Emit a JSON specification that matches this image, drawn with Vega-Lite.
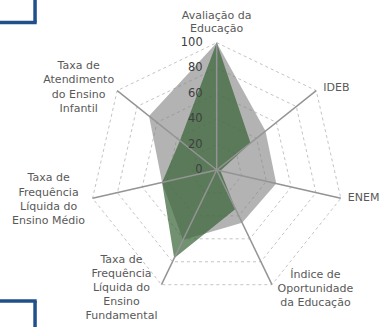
{
  "$schema": "https://vega.github.io/schema/vega-lite/v6.json",
  "width": 381,
  "height": 327,
  "padding": 0,
  "autosize": {"type": "none"},
  "config": {"view": {"stroke": null}, "font": "DejaVu Sans"},
  "datasets": {
    "vals": [
      {"series": "A", "i": 0, "value": 100},
      {"series": "A", "i": 1, "value": 49},
      {"series": "A", "i": 2, "value": 48},
      {"series": "A", "i": 3, "value": 46},
      {"series": "A", "i": 4, "value": 61},
      {"series": "A", "i": 5, "value": 44},
      {"series": "A", "i": 6, "value": 68},
      {"series": "B", "i": 0, "value": 100},
      {"series": "B", "i": 1, "value": 34},
      {"series": "B", "i": 2, "value": 3},
      {"series": "B", "i": 3, "value": 34},
      {"series": "B", "i": 4, "value": 77},
      {"series": "B", "i": 5, "value": 44},
      {"series": "B", "i": 6, "value": 37}
    ],
    "axes": [
      {"i": 0, "label": "Avaliação da|Educação"},
      {"i": 1, "label": "IDEB"},
      {"i": 2, "label": "ENEM"},
      {"i": 3, "label": "Índice de|Oportunidade|da Educação"},
      {"i": 4, "label": "Taxa de|Frequência|Líquida do|Ensino|Fundamental"},
      {"i": 5, "label": "Taxa de|Frequência|Líquida do|Ensino Médio"},
      {"i": 6, "label": "Taxa de|Atendimento|do Ensino|Infantil"}
    ],
    "grid": [
      {"i": 0, "levels": [20, 40, 60, 80, 100]},
      {"i": 1, "levels": [20, 40, 60, 80, 100]},
      {"i": 2, "levels": [20, 40, 60, 80, 100]},
      {"i": 3, "levels": [20, 40, 60, 80, 100]},
      {"i": 4, "levels": [20, 40, 60, 80, 100]},
      {"i": 5, "levels": [20, 40, 60, 80, 100]},
      {"i": 6, "levels": [20, 40, 60, 80, 100]}
    ],
    "ticks": [{"v": 0}, {"v": 20}, {"v": 40}, {"v": 60}, {"v": 80}, {"v": 100}]
  },
  "encoding": {},
  "layer": [
    {
      "data": {"name": "grid"},
      "transform": [
        {"flatten": ["levels"], "as": ["level"]},
        {"calculate": "datum.i * 2 * PI / 7", "as": "a"},
        {"calculate": "datum.level * sin(datum.a)", "as": "px"},
        {"calculate": "datum.level * cos(datum.a)", "as": "py"}
      ],
      "mark": {"type": "line", "interpolate": "linear-closed", "stroke": "#c4c4c4", "strokeWidth": 1, "strokeDash": [3, 3]},
      "encoding": {
        "x": {"field": "px", "type": "quantitative", "scale": {"domain": [-170.23, 129.07], "nice": false, "zero": false}, "axis": null},
        "y": {"field": "py", "type": "quantitative", "scale": {"domain": [-123.33, 133.54], "nice": false, "zero": false}, "axis": null},
        "detail": {"field": "level", "type": "nominal"},
        "order": {"field": "i", "type": "quantitative"}
      }
    },
    {
      "data": {"name": "vals"},
      "transform": [
        {"filter": "datum.series == 'A'"},
        {"calculate": "datum.i * 2 * PI / 7", "as": "a"},
        {"calculate": "datum.value * sin(datum.a)", "as": "px"},
        {"calculate": "datum.value * cos(datum.a)", "as": "py"}
      ],
      "mark": {"type": "line", "interpolate": "linear-closed", "fill": "#808080", "fillOpacity": 0.6, "strokeWidth": 0},
      "encoding": {
        "x": {"field": "px", "type": "quantitative"},
        "y": {"field": "py", "type": "quantitative"},
        "order": {"field": "i", "type": "quantitative"}
      }
    },
    {
      "data": {"name": "vals"},
      "transform": [
        {"filter": "datum.series == 'B'"},
        {"calculate": "datum.i * 2 * PI / 7", "as": "a"},
        {"calculate": "datum.value * sin(datum.a)", "as": "px"},
        {"calculate": "datum.value * cos(datum.a)", "as": "py"}
      ],
      "mark": {"type": "line", "interpolate": "linear-closed", "fill": "#346234", "fillOpacity": 0.7, "strokeWidth": 0},
      "encoding": {
        "x": {"field": "px", "type": "quantitative"},
        "y": {"field": "py", "type": "quantitative"},
        "order": {"field": "i", "type": "quantitative"}
      }
    },
    {
      "data": {"name": "axes"},
      "transform": [
        {"calculate": "datum.i * 2 * PI / 7", "as": "a"},
        {"calculate": "100 * sin(datum.a)", "as": "px"},
        {"calculate": "100 * cos(datum.a)", "as": "py"}
      ],
      "mark": {"type": "rule", "color": "#949494", "strokeWidth": 1.5},
      "encoding": {
        "x": {"field": "px", "type": "quantitative"},
        "y": {"field": "py", "type": "quantitative"},
        "x2": {"datum": 0},
        "y2": {"datum": 0}
      }
    },
    {
      "data": {"name": "ticks"},
      "mark": {"type": "text", "align": "right", "baseline": "middle", "dx": -14, "fontSize": 11.5, "color": "#404040"},
      "encoding": {
        "x": {"datum": 0, "type": "quantitative"},
        "y": {"field": "v", "type": "quantitative"},
        "text": {"field": "v", "type": "quantitative"}
      }
    },
    {
      "data": {"name": "axes"},
      "transform": [
        {"filter": "datum.i == 0"},
        {"calculate": "datum.i * 2 * PI / 7", "as": "a"},
        {"calculate": "100 * sin(datum.a)", "as": "px"},
        {"calculate": "100 * cos(datum.a)", "as": "py"}
      ],
      "mark": {"type": "text", "align": "center", "baseline": "middle", "dx": 0, "dy": -26.7, "fontSize": 11, "lineBreak": "|", "lineHeight": 13.5, "color": "#595959"},
      "encoding": {"x": {"field": "px", "type": "quantitative"}, "y": {"field": "py", "type": "quantitative"}, "text": {"field": "label", "type": "nominal"}}
    },
    {
      "data": {"name": "axes"},
      "transform": [
        {"filter": "datum.i == 1"},
        {"calculate": "datum.i * 2 * PI / 7", "as": "a"},
        {"calculate": "100 * sin(datum.a)", "as": "px"},
        {"calculate": "100 * cos(datum.a)", "as": "py"}
      ],
      "mark": {"type": "text", "align": "left", "baseline": "middle", "dx": 7, "dy": -3, "fontSize": 11, "lineBreak": "|", "lineHeight": 14, "color": "#595959"},
      "encoding": {"x": {"field": "px", "type": "quantitative"}, "y": {"field": "py", "type": "quantitative"}, "text": {"field": "label", "type": "nominal"}}
    },
    {
      "data": {"name": "axes"},
      "transform": [
        {"filter": "datum.i == 2"},
        {"calculate": "datum.i * 2 * PI / 7", "as": "a"},
        {"calculate": "100 * sin(datum.a)", "as": "px"},
        {"calculate": "100 * cos(datum.a)", "as": "py"}
      ],
      "mark": {"type": "text", "align": "left", "baseline": "middle", "dx": 7, "dy": 0, "fontSize": 11, "lineBreak": "|", "lineHeight": 14, "color": "#595959"},
      "encoding": {"x": {"field": "px", "type": "quantitative"}, "y": {"field": "py", "type": "quantitative"}, "text": {"field": "label", "type": "nominal"}}
    },
    {
      "data": {"name": "axes"},
      "transform": [
        {"filter": "datum.i == 3"},
        {"calculate": "datum.i * 2 * PI / 7", "as": "a"},
        {"calculate": "100 * sin(datum.a)", "as": "px"},
        {"calculate": "100 * cos(datum.a)", "as": "py"}
      ],
      "mark": {"type": "text", "align": "center", "baseline": "middle", "dx": 43.5, "dy": -9.7, "fontSize": 11, "lineBreak": "|", "lineHeight": 14.2, "color": "#595959"},
      "encoding": {"x": {"field": "px", "type": "quantitative"}, "y": {"field": "py", "type": "quantitative"}, "text": {"field": "label", "type": "nominal"}}
    },
    {
      "data": {"name": "axes"},
      "transform": [
        {"filter": "datum.i == 4"},
        {"calculate": "datum.i * 2 * PI / 7", "as": "a"},
        {"calculate": "100 * sin(datum.a)", "as": "px"},
        {"calculate": "100 * cos(datum.a)", "as": "py"}
      ],
      "mark": {"type": "text", "align": "center", "baseline": "middle", "dx": -40, "dy": -24.7, "fontSize": 11, "lineBreak": "|", "lineHeight": 14, "color": "#595959"},
      "encoding": {"x": {"field": "px", "type": "quantitative"}, "y": {"field": "py", "type": "quantitative"}, "text": {"field": "label", "type": "nominal"}}
    },
    {
      "data": {"name": "axes"},
      "transform": [
        {"filter": "datum.i == 5"},
        {"calculate": "datum.i * 2 * PI / 7", "as": "a"},
        {"calculate": "100 * sin(datum.a)", "as": "px"},
        {"calculate": "100 * cos(datum.a)", "as": "py"}
      ],
      "mark": {"type": "text", "align": "center", "baseline": "middle", "dx": -44, "dy": -20, "fontSize": 11, "lineBreak": "|", "lineHeight": 14.2, "color": "#595959"},
      "encoding": {"x": {"field": "px", "type": "quantitative"}, "y": {"field": "py", "type": "quantitative"}, "text": {"field": "label", "type": "nominal"}}
    },
    {
      "data": {"name": "axes"},
      "transform": [
        {"filter": "datum.i == 6"},
        {"calculate": "datum.i * 2 * PI / 7", "as": "a"},
        {"calculate": "100 * sin(datum.a)", "as": "px"},
        {"calculate": "100 * cos(datum.a)", "as": "py"}
      ],
      "mark": {"type": "text", "align": "center", "baseline": "middle", "dx": -38.5, "dy": -24.6, "fontSize": 11, "lineBreak": "|", "lineHeight": 14.4, "color": "#595959"},
      "encoding": {"x": {"field": "px", "type": "quantitative"}, "y": {"field": "py", "type": "quantitative"}, "text": {"field": "label", "type": "nominal"}}
    },
    {
      "data": {"values": [
        {"x1": -142.7, "x2": -142.7, "y1": 134, "y2": 115.9},
        {"x1": -171, "x2": -141.4, "y1": 115.9, "y2": 115.9},
        {"x1": -171, "x2": -141.4, "y1": -102.9, "y2": -102.9},
        {"x1": -142.7, "x2": -142.7, "y1": -102.9, "y2": -124}
      ]},
      "mark": {"type": "rule", "color": "#214f8b", "strokeWidth": 3.5},
      "encoding": {
        "x": {"field": "x1", "type": "quantitative"},
        "x2": {"field": "x2"},
        "y": {"field": "y1", "type": "quantitative"},
        "y2": {"field": "y2"}
      }
    }
  ]
}
